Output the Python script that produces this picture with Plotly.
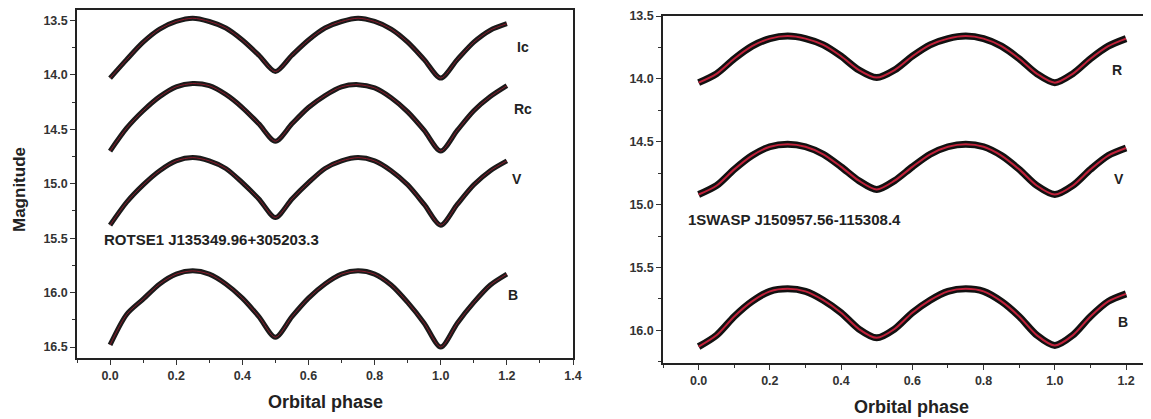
import plotly.graph_objects as go

phase = [0.00, 0.05, 0.10, 0.15, 0.20, 0.25, 0.30, 0.35, 0.40, 0.45, 0.50, 0.55, 0.60,
         0.65, 0.70, 0.75, 0.80, 0.85, 0.90, 0.95, 1.00, 1.05, 1.10, 1.15, 1.20]

# ROTSE1 J135349.96+305203.3
rotse_Ic = [14.03, 13.86, 13.70, 13.58, 13.51, 13.48, 13.51, 13.57, 13.68, 13.82, 13.97, 13.82, 13.68,
            13.57, 13.51, 13.48, 13.51, 13.58, 13.70, 13.86, 14.03, 13.86, 13.70, 13.59, 13.53]
rotse_Rc = [14.70, 14.49, 14.33, 14.20, 14.11, 14.08, 14.10, 14.18, 14.30, 14.45, 14.61, 14.45, 14.30,
            14.19, 14.11, 14.09, 14.12, 14.21, 14.34, 14.51, 14.70, 14.51, 14.33, 14.20, 14.10]
rotse_V = [15.38, 15.17, 15.01, 14.88, 14.79, 14.76, 14.79, 14.86, 14.99, 15.14, 15.31, 15.14, 14.99,
           14.86, 14.79, 14.76, 14.79, 14.88, 15.01, 15.19, 15.38, 15.19, 15.01, 14.88, 14.79]
rotse_B = [16.48, 16.20, 16.06, 15.92, 15.83, 15.80, 15.83, 15.92, 16.05, 16.22, 16.41, 16.22, 16.05,
           15.92, 15.83, 15.80, 15.83, 15.93, 16.09, 16.28, 16.50, 16.28, 16.09, 15.93, 15.83]

# 1SWASP J150957.56-115308.4
swasp_R = [14.03, 13.96, 13.84, 13.74, 13.68, 13.66, 13.68, 13.73, 13.82, 13.93, 13.99, 13.93, 13.82,
           13.73, 13.68, 13.66, 13.68, 13.74, 13.84, 13.96, 14.03, 13.96, 13.84, 13.74, 13.68]
swasp_V = [14.92, 14.85, 14.72, 14.61, 14.54, 14.52, 14.54, 14.60, 14.70, 14.81, 14.88, 14.81, 14.70,
           14.60, 14.54, 14.52, 14.54, 14.61, 14.72, 14.85, 14.92, 14.85, 14.72, 14.61, 14.55]
swasp_B = [16.13, 16.04, 15.89, 15.77, 15.69, 15.67, 15.69, 15.76, 15.86, 15.99, 16.06, 15.99, 15.86,
           15.76, 15.69, 15.67, 15.69, 15.77, 15.89, 16.04, 16.12, 16.04, 15.89, 15.77, 15.71]

left_bands = [("Ic", rotse_Ic), ("Rc", rotse_Rc), ("V", rotse_V), ("B", rotse_B)]
right_bands = [("R", swasp_R), ("V", swasp_V), ("B", swasp_B)]

left_label_pos = {"Ic": (1.25, 13.74), "Rc": (1.25, 14.31), "V": (1.23, 14.96), "B": (1.22, 16.02)}
right_label_pos = {"R": (1.175, 13.93), "V": (1.18, 14.80), "B": (1.19, 15.93)}

FONT = "Liberation Sans, Arial, sans-serif"
W, H = 1151, 419
OFF = 8  # page body margin of the browser


def px_x(x):
    return (x - OFF) / W


def px_y(y):
    return 1 - (y - OFF) / H


fig = go.Figure()

for name, mags in left_bands:
    fig.add_trace(go.Scatter(x=phase, y=mags, mode="lines", line=dict(color="#1a1a1a", width=5, shape="spline", smoothing=0.8),
                             xaxis="x", yaxis="y", showlegend=False, hoverinfo="skip"))
    fig.add_trace(go.Scatter(x=phase, y=mags, mode="lines", line=dict(color="#8b1a2b", width=1, shape="spline", smoothing=0.8),
                             xaxis="x", yaxis="y", showlegend=False, name=name))

for name, mags in right_bands:
    fig.add_trace(go.Scatter(x=phase, y=mags, mode="lines", line=dict(color="#111111", width=7, shape="spline", smoothing=0.8),
                             xaxis="x2", yaxis="y2", showlegend=False, hoverinfo="skip"))
    fig.add_trace(go.Scatter(x=phase, y=mags, mode="lines", line=dict(color="#c0213a", width=2, shape="spline", smoothing=0.8),
                             xaxis="x2", yaxis="y2", showlegend=False, name=name))

annots = []
for name, (px, py) in left_label_pos.items():
    annots.append(dict(x=px, y=py, xref="x", yref="y", text=name, showarrow=False, xanchor="center", yanchor="middle",
                       font=dict(family=FONT, size=14, color="#222", weight="bold")))
for name, (px, py) in right_label_pos.items():
    annots.append(dict(x=px, y=py, xref="x2", yref="y2", text=name, showarrow=False, xanchor="center", yanchor="middle",
                       font=dict(family=FONT, size=14, color="#222", weight="bold")))

annots.append(dict(x=-0.025, y=15.51, xref="x", yref="y", text="ROTSE1 J135349.96+305203.3", showarrow=False,
                   xanchor="left", yanchor="middle", font=dict(family=FONT, size=15, color="#222", weight="bold")))
annots.append(dict(x=-0.036, y=15.12, xref="x2", yref="y2", text="1SWASP J150957.56-115308.4", showarrow=False,
                   xanchor="left", yanchor="middle", font=dict(family=FONT, size=15, color="#222", weight="bold")))

annots.append(dict(x=px_x(325), y=px_y(402), xref="paper", yref="paper", text="Orbital phase", showarrow=False,
                   xanchor="center", yanchor="middle", font=dict(family=FONT, size=18, color="#222", weight="bold")))
annots.append(dict(x=px_x(911), y=px_y(407), xref="paper", yref="paper", text="Orbital phase", showarrow=False,
                   xanchor="center", yanchor="middle", font=dict(family=FONT, size=18, color="#222", weight="bold")))
annots.append(dict(x=px_x(19), y=px_y(190), xref="paper", yref="paper", text="Magnitude", showarrow=False,
                   xanchor="center", yanchor="middle", textangle=-90,
                   font=dict(family=FONT, size=17, color="#222", weight="bold")))

tickfont = dict(family=FONT, size=12.5, color="#333", weight="bold")
common = dict(showgrid=False, zeroline=False, showline=True, linecolor="#222", linewidth=1.5, automargin=False,
              ticklabeloverflow="allow",
              ticks="outside", ticklen=5, tickwidth=1.2, tickcolor="#333", tickfont=tickfont)

fig.update_layout(
    width=W, height=H, autosize=False,
    margin=dict(l=0, r=0, t=0, b=0),
    paper_bgcolor="white", plot_bgcolor="white",
    annotations=annots,
    xaxis=dict(domain=[px_x(77), px_x(573)], range=[-0.1, 1.4], dtick=0.2, tick0=0, tickformat=".1f",
               mirror=True, minor=dict(ticks="outside", dtick=0.1, ticklen=3, tickcolor="#333"), anchor="y", **common),
    yaxis=dict(domain=[px_y(358), px_y(9.5)], range=[16.6, 13.4], dtick=0.5, tick0=13.5, tickformat=".1f",
               mirror=True, minor=dict(ticks="outside", dtick=0.25, ticklen=3, tickcolor="#333"), anchor="x", **common),
    xaxis2=dict(domain=[px_x(663), px_x(1151)], range=[-0.1, 1.27], dtick=0.2, tick0=0, tickformat=".1f",
                mirror=True, minor=dict(ticks="outside", dtick=0.1, ticklen=3, tickcolor="#333"), anchor="y2", **common),
    yaxis2=dict(domain=[px_y(363), px_y(16)], range=[16.26, 13.5], dtick=0.5, tick0=13.5, tickformat=".1f",
                minor=dict(ticks="outside", dtick=0.25, ticklen=3, tickcolor="#333"), anchor="x2", **common),
)

fig.write_html("out.html", config={"displayModeBar": False})
